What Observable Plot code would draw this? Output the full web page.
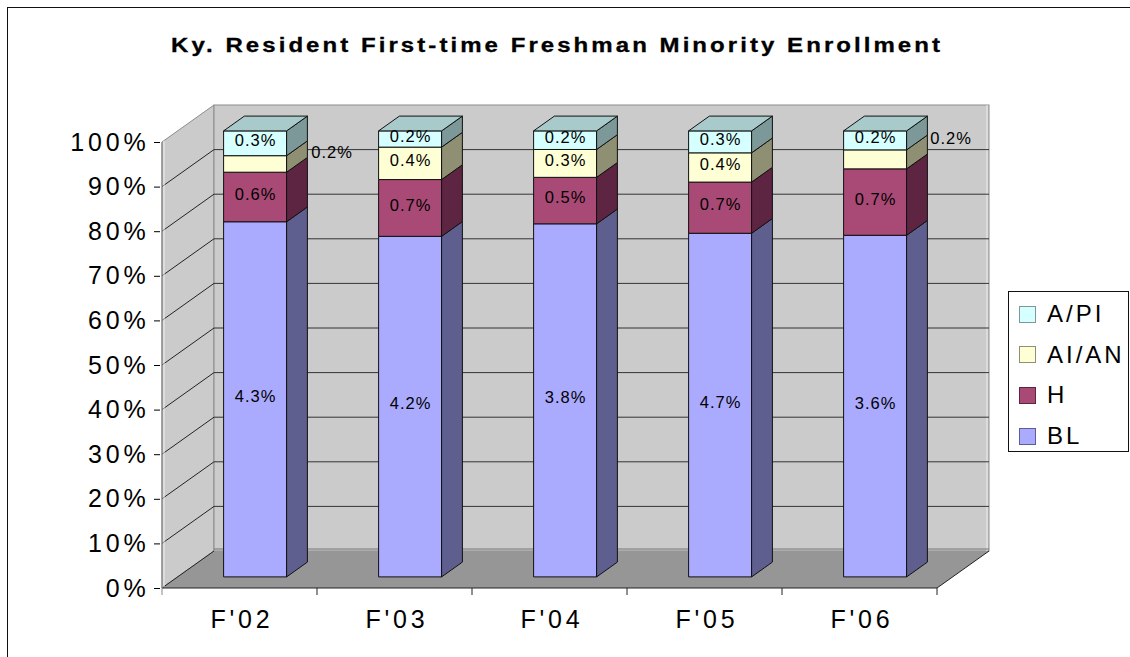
<!DOCTYPE html>
<html>
<head>
<meta charset="utf-8">
<script src="https://cdn.jsdelivr.net/npm/d3@7"></script>
<script src="https://cdn.jsdelivr.net/npm/@observablehq/plot@0.6"></script>
<style>
  html, body { margin: 0; padding: 0; background: #fff; }
  #wrap { position: relative; width: 1130px; height: 657px; overflow: hidden;
          font-family: "Liberation Sans", Arial, sans-serif; background: #fff; }
  #frame { position: absolute; left: 7px; top: 7px; width: 1300px; height: 800px;
           border: 1.5px solid #111; box-sizing: border-box; }
  #title { position: absolute; left: 171px; top: 35px; white-space: nowrap;
           font-weight: bold; font-size: 20px; line-height: 20px; color: #000;
           transform-origin: 0 0; -webkit-text-stroke: 0.3px #000; }
  #legend { position: absolute; left: 1008px; top: 291px; width: 121px; height: 161px;
            border: 1px solid #111; box-sizing: border-box; background: #fff; }
  .item { position: absolute; left: 10px; height: 24px; display: flex; align-items: center;
          font-size: 24px; letter-spacing: 3px; color: #000; }
  .sw { width: 15px; height: 15px; border: 1px solid #333; margin-right: 11px; flex: none; }
  #chart { position: absolute; left: 0; top: 0; }
</style>
</head>
<body>
<div id="wrap">
  <div id="frame"></div>
  <div id="chart"></div>
  <div id="title"></div>
  <div id="legend"></div>
</div>
<script>
// ---- data ----
const years = ["F'02", "F'03", "F'04", "F'05", "F'06"];
const races = ["BL", "H", "AI/AN", "A/PI"];          // bottom -> top
const BL    = [4.3, 4.2, 3.8, 4.7, 3.6];
const H     = [0.6, 0.7, 0.5, 0.7, 0.7];
const AIAN  = [0.2, 0.4, 0.3, 0.4, 0.2];
const API   = [0.3, 0.2, 0.2, 0.3, 0.2];
const yTicks = [0, 0.1, 0.2, 0.3, 0.4, 0.5, 0.6, 0.7, 0.8, 0.9, 1.0];
const titleText = "Ky. Resident First-time Freshman Minority Enrollment";
const outsideLabels = [["F'02", "AI/AN"], ["F'06", "AI/AN"]];

// ---- styles ----
const frontColor = {"BL": "#aaaaff", "H": "#a94a76", "AI/AN": "#ffffd6", "A/PI": "#d6ffff"};
const sideColor  = {"BL": "#5f5f8f", "H": "#5e2542", "AI/AN": "#8f8f74", "A/PI": "#7c9898"};
const topColor   = {"BL": "#8383c6", "H": "#85365b", "AI/AN": "#c6c6a6", "A/PI": "#a9caca"};
const DX = 52, DY = -37;        // full depth of the 3-D box (px)
const FRONT = 0.3, SIDE = 0.4;  // bar front position and bar depth (fraction of depth)
const BAR_W = 63;

const series = {"BL": BL, "H": H, "AI/AN": AIAN, "A/PI": API};
const rows = [];
years.forEach((year, i) => races.forEach(race => rows.push({year, race, value: series[race][i]})));
const isCell = (d, [y, r]) => y === d.year && r === d.race;
const isOutside = d => outsideLabels.some(c => isCell(d, c));

// walls, floor and gridlines (drawn through the scales)
function walls(index, scales) {
  const x = scales.x, y = scales.y;
  const step = x(years[1]) - x(years[0]);
  const xL = x(years[0]), xR = x(years[years.length - 1]) + step;
  const y0 = y(0), y1 = y(1);
  const g = d3.create("svg:g");
  g.append("path").attr("d", `M${xL},${y0}L${xL},${y1}L${xL + DX},${y1 + DY}L${xL + DX},${y0 + DY}Z`)
    .attr("fill", "#cbcbcb").attr("stroke", "#8c8c8c");
  g.append("rect").attr("x", xL + DX).attr("y", y1 + DY).attr("width", xR - xL).attr("height", y0 - y1)
    .attr("fill", "#cbcbcb").attr("stroke", "#8c8c8c");
  g.append("line").attr("x1", xR + DX - 2).attr("x2", xR + DX - 2).attr("y1", y1 + DY).attr("y2", y0 + DY)
    .attr("stroke", "#eeeeee");
  g.append("path").attr("d", `M${xL},${y0}L${xL + DX},${y0 + DY}L${xR + DX},${y0 + DY}L${xR},${y0}Z`)
    .attr("fill", "#969696").attr("stroke", "none");
  g.append("line").attr("x1", xL + DX).attr("x2", xR + DX).attr("y1", y0 + DY - 2).attr("y2", y0 + DY - 2)
    .attr("stroke", "#777").attr("stroke-width", 1.2);
  g.append("path").attr("d", `M${xL},${y0}L${xR},${y0}L${xR + DX},${y0 + DY}`)
    .attr("fill", "none").attr("stroke", "#222").attr("stroke-width", 1);
  g.append("line").attr("x1", xL).attr("x2", xL + DX).attr("y1", y0).attr("y2", y0 + DY)
    .attr("stroke", "#222");
  for (const t of yTicks) {
    if (t === 0 || t === 1) continue;
    const yy = y(t);
    g.append("line").attr("x1", xL).attr("y1", yy).attr("x2", xL + DX).attr("y2", yy + DY)
      .attr("stroke", "#111").attr("stroke-width", 0.9);
    g.append("line").attr("x1", xL + DX).attr("y1", yy + DY).attr("x2", xR + DX).attr("y2", yy + DY)
      .attr("stroke", "#222").attr("stroke-width", 0.9);
  }
  g.append("line").attr("x1", xL).attr("x2", xL).attr("y1", y1).attr("y2", y0)
    .attr("stroke", "#8c8c8c").attr("stroke-width", 1.2);
  g.append("line").attr("x1", xL + 2).attr("x2", xL + 2).attr("y1", y1 - 1).attr("y2", y0 - 1)
    .attr("stroke", "#eeeeee");
  for (let i = 0; i <= years.length; i++) {
    const xx = i < years.length ? x(years[i]) : xR;
    g.append("line").attr("x1", xx).attr("x2", xx).attr("y1", y0).attr("y2", y0 + 7)
      .attr("stroke", i === 0 ? "#888" : "#222");
  }
  return g.node();
}

function box3d(index, scales, values) {
  const X = values.x, Y1 = values.y1, Y2 = values.y2;
  const step = scales.x(years[1]) - scales.x(years[0]);
  const sdx = SIDE * DX, sdy = SIDE * DY;
  const g = d3.create("svg:g").attr("stroke", "#111").attr("stroke-width", 1).attr("stroke-linejoin", "round");
  for (const i of index) {
    const d = rows[i];
    const x0 = X[i] + (step - BAR_W) / 2 + FRONT * DX;
    const x1 = x0 + BAR_W;
    const yb = Math.max(Y1[i], Y2[i]) + FRONT * DY;
    const yt = Math.min(Y1[i], Y2[i]) + FRONT * DY;
    g.append("rect").attr("x", x0).attr("y", yt).attr("width", BAR_W).attr("height", yb - yt)
      .attr("fill", frontColor[d.race]);
    g.append("path").attr("d", `M${x1},${yt}L${x1 + sdx},${yt + sdy}L${x1 + sdx},${yb + sdy}L${x1},${yb}Z`)
      .attr("fill", sideColor[d.race]);
    if (d.race === races[races.length - 1]) {
      g.append("path").attr("d", `M${x0},${yt}L${x0 + sdx},${yt + sdy}L${x1 + sdx},${yt + sdy}L${x1},${yt}Z`)
        .attr("fill", topColor[d.race]);
    }
  }
  return g.node();
}

const fmt = d => d.value.toFixed(1) + "%";
const stackOpts = {x: "year", y: "value", z: "race", order: races, offset: "normalize"};

const chart = Plot.plot({
  width: 1130,
  height: 657,
  marginLeft: 160,
  marginRight: 192,
  marginTop: 142,
  marginBottom: 69,
  x: {domain: years, padding: 0, tickSize: 0, tickPadding: 22, label: null},
  y: {domain: [0, 1], ticks: yTicks, tickFormat: d3.format(".0%"), tickSize: 6, tickPadding: 5, label: null},
  style: {fontFamily: "'Liberation Sans', Arial, sans-serif", fontSize: "25px", background: "transparent", color: "#000", overflow: "visible"},
  marks: [
    walls,
    Plot.barY(rows, Plot.stackY({...stackOpts, fill: "race", render: box3d})),
    Plot.text(rows, Plot.stackY({...stackOpts, text: d => isOutside(d) ? null : fmt(d),
      dx: FRONT * DX, dy: FRONT * DY - 3, fontSize: 16.5, fill: "#000"})),
    Plot.text(rows, Plot.stackY({...stackOpts, text: d => isCell(d, outsideLabels[0]) ? fmt(d) : null,
      dx: 92, dy: -23, fontSize: 16.5, fill: "#000"})),
    Plot.text(rows, Plot.stackY({...stackOpts, text: d => isCell(d, outsideLabels[1]) ? fmt(d) : null,
      dx: 91, dy: -32, fontSize: 16.5, fill: "#000"}))
  ]
});
chart.style.letterSpacing = "3.8px";
chart.querySelectorAll('g[aria-label="text"]').forEach(g => g.style.letterSpacing = "1px");
chart.querySelectorAll('g[aria-label="x-axis tick label"] text, g[aria-label="x-axis"] text').forEach(t => t.setAttribute("dx", "2"));
document.getElementById("chart").appendChild(chart);

// title: widened glyphs, spacing fitted to the reference width
const title = document.getElementById("title");
title.textContent = titleText;
const SX = 1.2;
const w0 = title.getBoundingClientRect().width;
const ls = (769 / SX - w0) / (titleText.length - 1);
title.style.letterSpacing = ls + "px";
title.style.transform = `scaleX(${SX})`;

// legend
const legend = document.getElementById("legend");
races.slice().reverse().forEach((r, k) => {
  const it = document.createElement("div");
  it.className = "item";
  it.style.top = (10 + k * 40.7) + "px";
  const sw = document.createElement("span");
  sw.className = "sw";
  sw.style.background = frontColor[r];
  sw.style.borderColor = sideColor[r];
  it.appendChild(sw);
  it.appendChild(document.createTextNode(r));
  legend.appendChild(it);
});
</script>
</body>
</html>
